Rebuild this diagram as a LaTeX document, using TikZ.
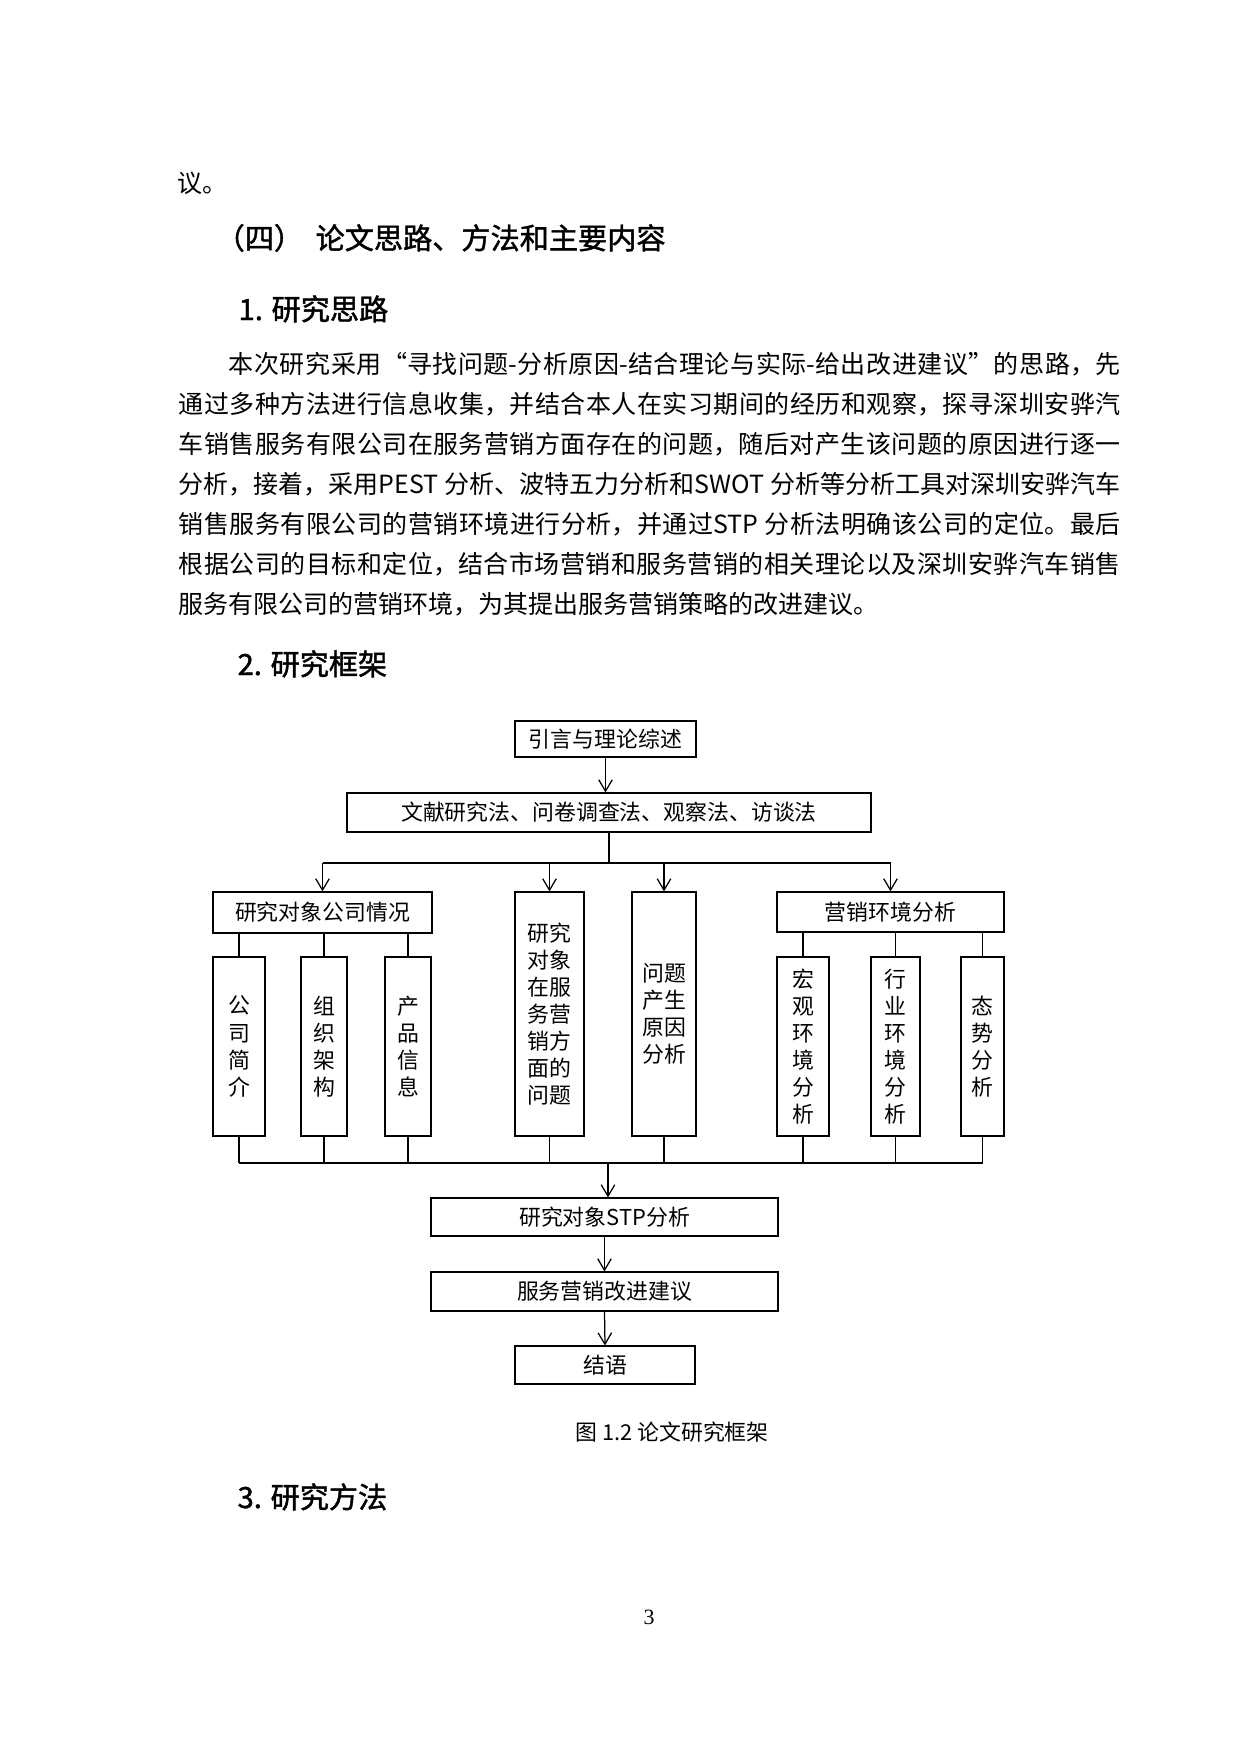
\documentclass[tikz,border=0pt]{standalone}
\usepackage{fontspec}
\usetikzlibrary{arrows.meta}
\newfontfamily\cjk{Noto Sans CJK SC}
\newfontfamily\cjkhead[FakeBold=1.5]{Noto Sans CJK SC}
\newfontfamily\timesfont{Liberation Serif}
\XeTeXlinebreaklocale "zh"
\XeTeXlinebreakskip=0pt plus 2pt minus 0.3pt

\begin{document}
\begin{tikzpicture}[x=0.48pt, y=-0.48pt, line width=0.6pt,
    box/.style={draw, inner sep=0pt, align=center, font=\cjk\fontsize{10.5pt}{13pt}\selectfont},
    arr/.style={-{Straight Barb[length=5.5pt,width=6.5pt]}},
    bodyline/.style={anchor=base west, inner sep=0pt, text width=452.2pt, align=justify, font=\cjk\fontsize{12pt}{20pt}\selectfont},
    head/.style={anchor=base west, inner sep=0pt, font=\cjkhead\fontsize{14pt}{16pt}\selectfont}]
    \useasboundingbox (0,0) rectangle (1240,1754);
    % page text above the figure
    \node[anchor=base west, inner sep=0pt, font=\cjk\fontsize{12pt}{14pt}\selectfont] (prev) at (177,192.5) {议。};
    \node[head] (sec4) at (215,249) {（四）\hspace{6pt}论文思路、方法和主要内容};
    \node[head] (sub1) at (238,320) {1. 研究思路};
    \node[bodyline] (par1) at (178,373.5) {\parfillskip=0pt\relax\hspace*{24pt}本次研究采用“寻找问题-分析原因-结合理论与实际-给出改进建议”的思路，先\endgraf};
    \foreach \t [count=\i from 2] in {通过多种方法进行信息收集，并结合本人在实习期间的经历和观察，探寻深圳安骅汽,
        车销售服务有限公司在服务营销方面存在的问题，随后对产生该问题的原因进行逐一,
        分析，接着，采用PEST 分析、波特五力分析和SWOT 分析等分析工具对深圳安骅汽车,
        销售服务有限公司的营销环境进行分析，并通过STP 分析法明确该公司的定位。最后,
        根据公司的目标和定位，结合市场营销和服务营销的相关理论以及深圳安骅汽车销售}
        \node[bodyline] (par\i) at (178,{373.5+40*(\i-1)}) {\parfillskip=0pt\relax\t\endgraf};
    \node[bodyline] (par7) at (178,613.5) {服务有限公司的营销环境，为其提出服务营销策略的改进建议。};
    \node[head] (sub2) at (237,675) {2. 研究框架};
    % the figure
    \node[box, minimum width=86.9pt, minimum height=17.3pt] (intro) at (605.5,739) {引言与理论综述};
    \node[box, minimum width=251.5pt, minimum height=18.7pt] (methods) at (609,812.5) {文献研究法、问卷调查法、观察法、访谈法};
    \node[box, minimum width=105.1pt, minimum height=19.7pt] (company) at (322.5,912.5) {研究对象公司情况};
    \node[box, minimum width=33.1pt, minimum height=117.1pt] (problem) at (549.5,1014) {研究\\对象\\在服\\务营\\销方\\面的\\问题};
    \node[box, minimum width=30.7pt, minimum height=117.1pt] (cause) at (664,1014) {问题\\产生\\原因\\分析};
    \node[box, minimum width=109pt, minimum height=19.2pt] (market) at (890.5,912) {营销环境分析};
    \node[box, minimum width=25pt, minimum height=85.9pt] (brief) at (239,1046.5) {公\\司\\简\\介};
    \node[box, minimum width=22.1pt, minimum height=85.9pt] (org) at (324,1046.5) {组\\织\\架\\构};
    \node[box, minimum width=22.1pt, minimum height=85.9pt] (product) at (408,1046.5) {产\\品\\信\\息};
    \node[box, minimum width=25pt, minimum height=85.9pt] (macro) at (803,1046.5) {宏\\观\\环\\境\\分\\析};
    \node[box, minimum width=23.5pt, minimum height=85.9pt] (industry) at (895.5,1046.5) {行\\业\\环\\境\\分\\析};
    \node[box, minimum width=20.6pt, minimum height=85.9pt] (swot) at (982.5,1046.5) {态\\势\\分\\析};
    \node[box, minimum width=166.6pt, minimum height=18.2pt] (stp) at (604.5,1217) {研究对象STP分析};
    \node[box, minimum width=166.6pt, minimum height=18.7pt] (advice) at (604.5,1291.5) {服务营销改进建议};
    \node[box, minimum width=86.4pt, minimum height=18.2pt] (ending) at (605,1365) {结语};
    \coordinate (busT) at (609,863);
    \coordinate (busB) at (608,1163);
    \draw[arr] (intro.south) -- (intro.south |- methods.north);
    \draw (methods.south) -- (busT);
    \draw (company.north |- busT) -- (market.north |- busT);
    \foreach \n in {company,problem,cause,market} \draw[arr] (\n.north |- busT) -- (\n.north);
    \foreach \n in {brief,org,product} \draw (company.south -| \n.north) -- (\n.north);
    \foreach \n in {macro,industry,swot} \draw (market.south -| \n.north) -- (\n.north);
    \foreach \n in {brief,org,product,problem,cause,macro,industry,swot} \draw (\n.south) -- (\n.south |- busB);
    \draw (brief.south |- busB) -- (swot.south |- busB);
    \draw[arr] (busB) -- (busB |- stp.north);
    \draw[arr] (stp.south) -- (advice.north);
    \draw[arr] (advice.south) -- (ending.north);
    % caption and the rest of the page
    \node[anchor=base, inner sep=0pt, font=\cjk\fontsize{10.5pt}{12pt}\selectfont] (caption) at (672,1440) {图 1.2 论文研究框架};
    \node[head] (sub3) at (237,1508) {3. 研究方法};
    \node[inner sep=0pt, font=\timesfont\fontsize{10.5pt}{12pt}\selectfont] (pageno) at (649,1617) {3};
\end{tikzpicture}
\end{document}
